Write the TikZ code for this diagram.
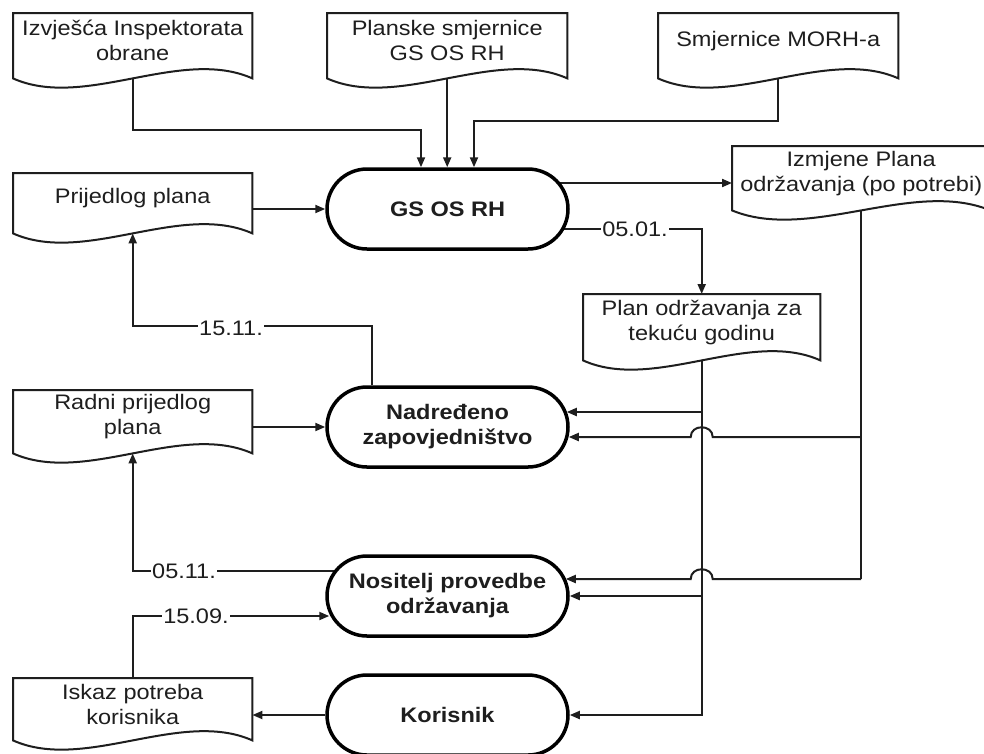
\documentclass[tikz,border=0pt]{standalone}
\usepackage{fontspec}
\setmainfont{Liberation Sans}[FakeStretch=1.12]
\usetikzlibrary{arrows.meta,calc,shapes.misc}
\pgfdeclarelayer{bg}
\pgfsetlayers{bg,main}
\definecolor{ink}{HTML}{1E1E1E}
\tikzset{
 base/.style={font=\fontsize{21pt}{25pt}\selectfont, text=ink},
 docbox/.style={inner sep=0pt, anchor=north west},
 doctext/.style={base, align=center, inner sep=0pt, yshift=5pt},
 oval/.style={base, font=\fontsize{21pt}{25pt}\selectfont\bfseries, rounded rectangle, draw=black, line width=3.5pt, fill=white, minimum width=241pt, minimum height=80pt, align=center, inner sep=0pt},
 docline/.style={draw=ink, line width=2pt, fill=white},
 conn/.style={draw=ink, line width=2pt},
 arr/.style={conn, -{Triangle[length=10pt,width=8pt]}},
 datelbl/.style={base, fill=white, inner sep=1pt},
}
\newcommand\docpath[1]{%
 \path[docline] (#1.south west) -- (#1.north west) -- (#1.north east) -- (#1.south east)
   .. controls ($(#1.south east)!0.3!(#1.south west)+(0,-32)$) and ($(#1.south east)!0.7!(#1.south west)+(0,32)$) .. (#1.south west) -- cycle;}
\begin{document}
\begin{tikzpicture}[x=1pt,y=-1pt]
\useasboundingbox (0,0) rectangle (984,753);
\clip (0,0) rectangle (984,753);

% documents
\node[docbox, minimum width=239pt, minimum height=65pt] (D1) at (13,13) {};
\docpath{D1}
\node[doctext] (D1t) at (D1.center) {Izvješća Inspektorata\\obrane};

\node[docbox, minimum width=240pt, minimum height=65pt] (D2) at (327,13) {};
\docpath{D2}
\node[doctext] (D2t) at (D2.center) {Planske smjernice\\GS OS RH};

\node[docbox, minimum width=240pt, minimum height=65pt] (D3) at (658,13) {};
\docpath{D3}
\node[doctext] (D3t) at (D3.center) {Smjernice MORH-a};

\node[docbox, minimum width=239pt, minimum height=60pt] (D4) at (13,173) {};
\docpath{D4}
\node[doctext] (D4t) at (D4.center) {Prijedlog plana};

\node[docbox, minimum width=258pt, minimum height=64pt] (D5) at (732,146) {};
\docpath{D5}
\node[doctext] (D5t) at (D5.center) {Izmjene Plana\\održavanja (po potrebi)};

\node[docbox, minimum width=237pt, minimum height=66pt] (D6) at (583,294) {};
\docpath{D6}
\node[doctext] (D6t) at (D6.center) {Plan održavanja za\\tekuću godinu};

\node[docbox, minimum width=239pt, minimum height=63pt] (D7) at (13,390) {};
\docpath{D7}
\node[doctext] (D7t) at (D7.center) {Radni prijedlog\\plana};

\node[docbox, minimum width=239pt, minimum height=62pt] (D8) at (13,678) {};
\docpath{D8}
\node[doctext] (D8t) at (D8.center) {Iskaz potreba\\korisnika};

% process ovals
\node[oval] (O1) at (447.5,209) {GS OS RH};
\node[oval] (O2) at (447.5,427) {Nadređeno\\zapovjedništvo};
\node[oval] (O3) at (447.5,596) {Nositelj provedbe\\održavanja};
\node[oval] (O4) at (447.5,715) {Korisnik};

% date labels
\node[datelbl] (L0501) at (635,229) {05.01.};
\node[datelbl] (L1511) at (231,328) {15.11.};
\node[datelbl] (L0511) at (184,571) {05.11.};
\node[datelbl] (L1509) at (196,616) {15.09.};

\coordinate (hopA) at (D6.south |- 0,437);
\coordinate (hopB) at (D6.south |- 0,579);

\begin{pgfonlayer}{bg}
\draw[arr] (D1.south) -- ++(0,52) -| ([xshift=-26.5pt]O1.north);
\draw[arr] (D2.south) -- (D2.south |- O1.north);
\draw[arr] (D3.south) -- ++(0,43) -| ([xshift=26.5pt]O1.north);
\draw[arr] (D4.east |- O1.west) -- (O1.west);
\draw[arr] ([yshift=26pt]O1.center) -- ([yshift=26pt]O1.center -| D5.west);
\draw[arr] ([yshift=-20pt]O1.center) -| (D6.north);
% plan -> units
\draw[arr] (D6.south) |- (O4.east);
\draw[arr] (D6.south |- 0,412) -- ([shift={(-3pt,15pt)}]O2.east);
\draw[arr] (D6.south |- O3.east) -- (O3.east);
% changes -> units
\draw[conn] (D5.south) -- (D5.south |- hopB);
\draw[arr] (D5.south |- hopA) -- ([xshift=11pt]hopA)
  .. controls ([shift={(11pt,13pt)}]hopA) and ([shift={(-11pt,13pt)}]hopA) .. ([xshift=-11pt]hopA)
  -- ([shift={(-1pt,-10pt)}]O2.east);
\draw[arr] (D5.south |- hopB) -- ([xshift=11pt]hopB)
  .. controls ([shift={(11pt,13pt)}]hopB) and ([shift={(-11pt,13pt)}]hopB) .. ([xshift=-11pt]hopB)
  -- ([shift={(-4pt,17pt)}]O3.east);
% left side flows
\draw[arr] ([xshift=-75.5pt]O2.north) -- ++(0,-59) -| (D4.south);
\draw[arr] (D7.east |- O2.west) -- (O2.west);
\draw[arr] ([yshift=25pt]O3.center) -| (D7.south);
\draw[arr] (D8.north) |- ([shift={(4pt,-20pt)}]O3.west);
\draw[arr] (O4.west) -- (D8.east |- O4.west);
\end{pgfonlayer}
\end{tikzpicture}
\end{document}
